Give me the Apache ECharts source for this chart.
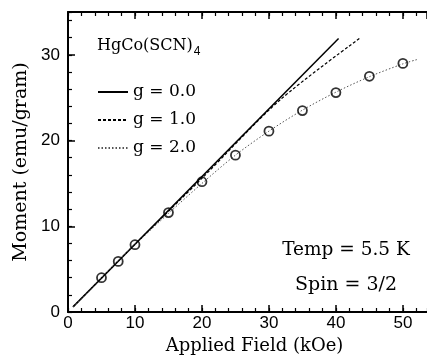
<!DOCTYPE html>
<html><head><meta charset="utf-8">
<script src="https://cdn.jsdelivr.net/npm/echarts@6/dist/echarts.min.js"></script>
<style>html,body{margin:0;padding:0;background:#fff}#c{width:427px;height:359px}</style>
</head><body><div id="c"></div>
<script>
// Tick labels
const xTickLabels = [0, 10, 20, 30, 40, 50];
const yTickLabels = [0, 10, 20, 30];
// Measured data (circles)
const dataField = [5, 7.5, 10, 15, 20, 25, 30, 35, 40, 45, 50];
const dataMoment = [4.0, 5.9, 7.85, 11.6, 15.2, 18.3, 21.1, 23.5, 25.6, 27.5, 29.0];
// Model curves
const g0Field = [0.75, 40.4];
const g0Moment = [0.6, 31.9];
const g1Field = [0.75, 10, 20, 31.6, 43.5];
const g1Moment = [0.6, 7.9, 15.6, 24.7, 31.9];
const g2Field = [0.75, 5, 7.5, 10, 15, 20, 25, 30, 35, 40, 45, 50, 52.1];
const g2Moment = [0.6, 4.0, 5.95, 7.85, 11.5, 15.0, 18.3, 21.1, 23.55, 25.65, 27.45, 28.95, 29.45];
const seriesNames = ['g = 0.0', 'g = 1.0', 'g = 2.0'];

const zip = (a, b) => a.map((v, i) => [v, b[i]]);
const SERIF = 'DejaVu Serif';
const SANS = 'Liberation Sans';

function majorX(pos, withLabel) {
  return {
    type: 'value', position: pos, min: 0, max: 53.6, interval: 10,
    axisLine: { show: true, onZero: false, lineStyle: { color: '#000', width: 2 } },
    axisTick: { show: true, inside: true, length: 7, lineStyle: { color: '#000', width: 1.5 } },
    axisLabel: withLabel ? {
      show: true, margin: 3, fontSize: 17, fontFamily: SANS, color: '#000', showMaxLabel: false,
      formatter: v => xTickLabels.includes(v) ? String(v) : ''
    } : { show: false },
    splitLine: { show: false }
  };
}
function minorX(pos) {
  return {
    type: 'value', position: pos, min: 0, max: 53.6, interval: 2,
    axisLine: { show: false, onZero: false },
    axisTick: { show: true, inside: true, length: 4, lineStyle: { color: '#000', width: 1.2 } },
    axisLabel: { show: false }, splitLine: { show: false }
  };
}

const chart = echarts.init(document.getElementById('c'), null, { renderer: 'canvas' });
const xMain = majorX('bottom', true);
xMain.name = 'Applied Field (kOe)';
xMain.nameLocation = 'middle';
xMain.nameGap = 25;
xMain.nameTextStyle = { fontFamily: SERIF, fontSize: 18, color: '#000', padding: [0, 0, 0, 14] };

chart.setOption({
  animation: false,
  backgroundColor: '#fff',
  grid: { left: 68, right: 0, top: 12, bottom: 47, containLabel: false, outerBoundsMode: 'none' },
  xAxis: [xMain, minorX('bottom'), majorX('top', false), minorX('top')],
  yAxis: [
    {
      type: 'value', position: 'left', min: 0, max: 35, interval: 10,
      name: 'Moment (emu/gram)', nameLocation: 'middle', nameGap: 32,
      nameTextStyle: { fontFamily: SERIF, fontSize: 19, color: '#000' },
      axisLine: { show: true, onZero: false, lineStyle: { color: '#000', width: 2 } },
      axisTick: { show: true, inside: true, length: 7, lineStyle: { color: '#000', width: 1.5 } },
      axisLabel: { margin: 8, fontSize: 17, fontFamily: SANS, color: '#000', showMaxLabel: false,
        formatter: v => yTickLabels.includes(v) ? String(v) : '' },
      splitLine: { show: false }
    },
    {
      type: 'value', position: 'left', min: 0, max: 35, interval: 2,
      axisLine: { show: false, onZero: false },
      axisTick: { show: true, inside: true, length: 4, lineStyle: { color: '#000', width: 1.2 } },
      axisLabel: { show: false }, splitLine: { show: false }
    }
  ],
  legend: {
    data: seriesNames, orient: 'vertical', left: 92, top: 78,
    itemWidth: 30, itemHeight: 18, itemGap: 10,
    itemStyle: { color: 'rgba(0,0,0,0)', borderWidth: 0, opacity: 0 },
    textStyle: { fontFamily: SERIF, fontSize: 17, color: '#000', lineHeight: 18 },
    selectedMode: false
  },
  graphic: [
    { type: 'text', x: 97, y: 46,
      style: { text: '{a|HgCo(SCN)}{b|4}', rich: {
        a: { fontFamily: SERIF, fontSize: 16, fill: '#000', color: '#000' },
        b: { fontFamily: SANS, fontSize: 12, fill: '#000', color: '#000', padding: [12, 0, 0, 1] }
      }, verticalAlign: 'middle', textVerticalAlign: 'middle', fill: '#000' } },
    { type: 'text', x: 346, y: 250,
      style: { text: 'Temp = 5.5 K', fontFamily: SERIF, fontSize: 18.5, fill: '#000',
        align: 'center', textAlign: 'center', verticalAlign: 'middle', textVerticalAlign: 'middle' } },
    { type: 'text', x: 346, y: 285,
      style: { text: 'Spin = 3/2', fontFamily: SERIF, fontSize: 19, fill: '#000',
        align: 'center', textAlign: 'center', verticalAlign: 'middle', textVerticalAlign: 'middle' } }
  ],
  series: [
    { name: seriesNames[0], type: 'line', xAxisIndex: 0, yAxisIndex: 0, data: zip(g0Field, g0Moment),
      symbol: 'none', lineStyle: { color: '#000', width: 1.5, type: 'solid' }, itemStyle: { color: '#000' } },
    { name: seriesNames[1], type: 'line', xAxisIndex: 0, yAxisIndex: 0, data: zip(g1Field, g1Moment),
      symbol: 'none', smooth: 0.3, lineStyle: { color: '#000', width: 1.2, type: [3, 2] }, itemStyle: { color: '#000' } },
    { name: seriesNames[2], type: 'line', xAxisIndex: 0, yAxisIndex: 0, data: zip(g2Field, g2Moment),
      symbol: 'none', smooth: 0.3, lineStyle: { color: '#555', width: 1, type: [1.5, 2] }, itemStyle: { color: '#555' } },
    { name: 'data', type: 'scatter', xAxisIndex: 0, yAxisIndex: 0, data: zip(dataField, dataMoment),
      symbol: 'circle', symbolSize: 9, z: 5,
      itemStyle: { color: 'rgba(255,255,255,0)', borderColor: '#000', borderWidth: 1.8 } }
  ]
});
</script>
</body></html>
